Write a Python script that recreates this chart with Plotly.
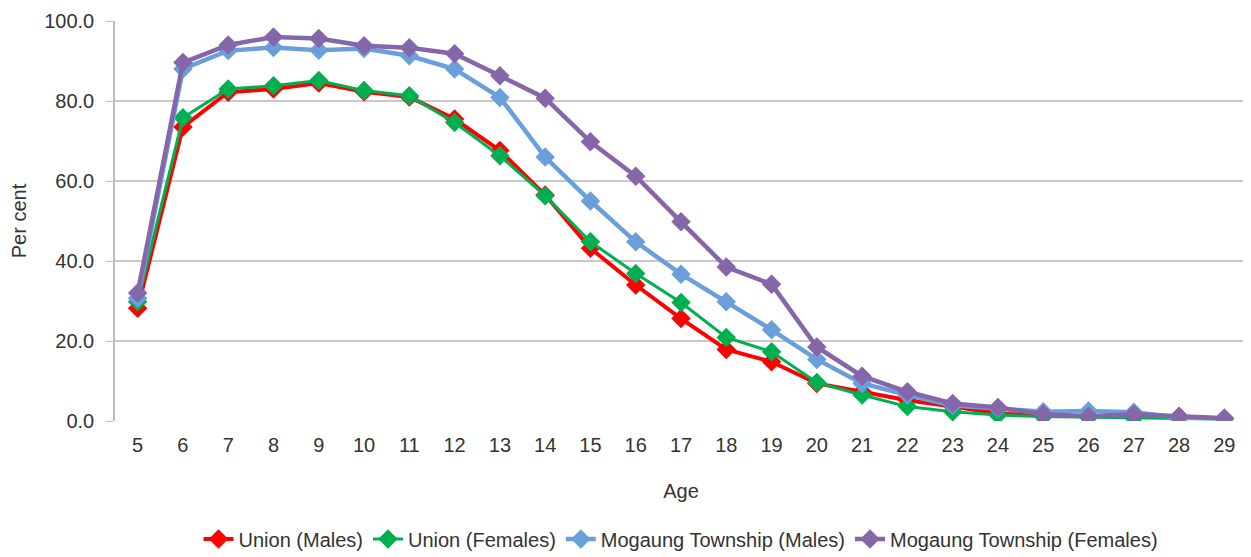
import plotly.graph_objects as go

ages = list(range(5, 30))
union_males = [28.2, 73.5, 82.2, 83.0, 84.5, 82.3, 81.0, 75.5, 67.6, 56.5, 43.2, 34.0, 25.6, 17.9, 14.8, 9.4, 7.3, 5.2, 3.6, 1.9, 1.3, 1.1, 1.1, 1.1, 0.6]
union_females = [29.8, 75.8, 83.0, 83.8, 85.1, 82.6, 81.3, 74.6, 66.3, 56.3, 44.8, 36.9, 29.6, 20.9, 17.3, 9.6, 6.5, 3.6, 2.3, 1.5, 1.1, 0.9, 0.8, 0.6, 0.5]
mog_males = [30.7, 88.0, 92.6, 93.4, 92.7, 93.1, 91.3, 88.0, 80.9, 66.0, 55.0, 44.8, 36.7, 29.8, 22.8, 15.4, 9.4, 6.5, 3.9, 3.1, 2.3, 2.5, 2.2, 0.9, 0.7]
mog_females = [32.0, 89.6, 94.0, 96.0, 95.6, 93.8, 93.3, 91.8, 86.3, 80.7, 69.8, 61.2, 49.8, 38.5, 34.2, 18.5, 11.2, 7.3, 4.4, 3.4, 1.7, 1.2, 1.7, 1.1, 0.7]

series = [
    ("Union (Males)", union_males, "#FF0000", 4),
    ("Union (Females)", union_females, "#00B050", 3),
    ("Mogaung Township (Males)", mog_males, "#6A9FDB", 4.5),
    ("Mogaung Township (Females)", mog_females, "#8566A8", 4.5),
]

fig = go.Figure()
for name, vals, color, w in series:
    fig.add_trace(go.Scatter(
        x=ages, y=vals, name=name, mode="lines+markers",
        line=dict(color=color, width=w),
        marker=dict(symbol="diamond", size=15, color=color),
    ))

txt = "#333333"
fig.update_layout(
    width=1251, height=557,
    margin=dict(l=107, r=12, t=13, b=144, autoexpand=False),
    plot_bgcolor="white", paper_bgcolor="white",
    font=dict(family="Liberation Sans, Arial, sans-serif", size=20, color=txt),
    legend=dict(orientation="h", x=0.5, xanchor="center", y=-0.295, yanchor="middle",
                font=dict(size=20, color=txt), tracegroupgap=0),
    showlegend=True,
)
fig.update_xaxes(
    range=[4.5, 29.5], tickmode="array", tickvals=ages, ticktext=[str(a) for a in ages],
    showgrid=False, zeroline=False, showline=False, ticks="",
    ticklabelstandoff=10,
    title=dict(text="Age", standoff=28, font=dict(size=20)),
    tickfont=dict(size=20),
)
fig.update_yaxes(
    range=[0, 100], tickvals=[0, 20, 40, 60, 80, 100], tickformat=".1f",
    showgrid=True, gridcolor="#C8C8C8", gridwidth=1.5,
    zeroline=False, showline=True, linecolor="#BDBDBD", linewidth=1.5,
    ticks="outside", ticklen=7, tickcolor="#BDBDBD",
    ticklabelstandoff=8,
    title=dict(text="Per cent", standoff=14, font=dict(size=20)),
    tickfont=dict(size=20),
)

fig.write_html("out.html")
